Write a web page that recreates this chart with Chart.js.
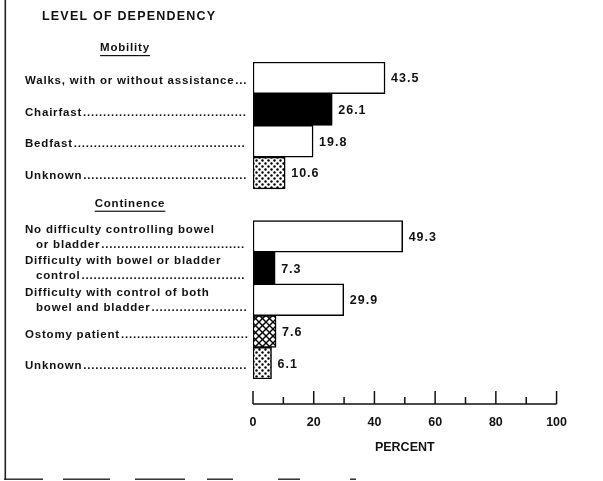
<!DOCTYPE html>
<html>
<head>
<meta charset="utf-8">
<title>Level of dependency</title>
<script src="https://cdn.jsdelivr.net/npm/chart.js@4.4.1/dist/chart.umd.min.js"></script>
<style>
    html, body { margin: 0; padding: 0; background: #fff; }
    #wrap { width: 603px; height: 481px; }
</style>
</head>
<body>
<div id="wrap"><canvas id="chart" width="603" height="481"></canvas></div>
<script>
// --- Data ---
const mobilityLabels = [
    ['Walks, with or without assistance'],
    ['Chairfast'],
    ['Bedfast'],
    ['Unknown']
];
const mobilityValues = [43.5, 26.1, 19.8, 10.6];

const continenceLabels = [
    ['No difficulty controlling bowel', 'or bladder'],
    ['Difficulty with bowel or bladder', 'control'],
    ['Difficulty with control of both', 'bowel and bladder'],
    ['Ostomy patient'],
    ['Unknown']
];
const continenceValues = [49.3, 7.3, 29.9, 7.6, 6.1];

const xTickValues = [0, 20, 40, 60, 80, 100];
const xMinorTickValues = [10, 30, 50, 70, 90];

// --- Fill styles for each bar (kept apart from the data) ---
const mobilityFills = ['white', 'black', 'white', 'dots'];
const continenceFills = ['white', 'black', 'white', 'hatch', 'dots'];

const LABEL_FONT = 'bold 11.5px "Liberation Sans", Arial, sans-serif';
const NUM_FONT = 'bold 12.5px "Liberation Sans", Arial, sans-serif';
const INK = '#111';

// one blank slot separates the two groups
const allLabels = [...mobilityLabels, [''], ...continenceLabels];
const allValues = [...mobilityValues, null, ...continenceValues];

const canvas = document.getElementById('chart');
const ctx = canvas.getContext('2d');

function makeDots() {
    const c = document.createElement('canvas');
    c.width = 6; c.height = 6;
    const g = c.getContext('2d');
    g.fillStyle = '#fff'; g.fillRect(0, 0, 6, 6);
    g.fillStyle = '#000';
    [[1.5, 1.5], [4.5, 4.5]].forEach(([x, y]) => {
        g.beginPath(); g.arc(x, y, 1.2, 0, Math.PI * 2); g.fill();
    });
    return ctx.createPattern(c, 'repeat');
}

function makeHatch() {
    const c = document.createElement('canvas');
    c.width = 7; c.height = 7;
    const g = c.getContext('2d');
    g.fillStyle = '#fff'; g.fillRect(0, 0, 7, 7);
    g.strokeStyle = '#000'; g.lineWidth = 1.4;
    [-7, 0, 7].forEach(k => {
        g.beginPath(); g.moveTo(k, 0); g.lineTo(k + 7, 7); g.stroke();
        g.beginPath(); g.moveTo(k + 7, 0); g.lineTo(k, 7); g.stroke();
    });
    return ctx.createPattern(c, 'repeat');
}

const patterns = { white: '#fff', black: '#000', dots: makeDots(), hatch: makeHatch() };
const barFills = [...mobilityFills, 'white', ...continenceFills].map(f => patterns[f]);

function dotLeader(c, text, x, y, endX) {
    c.fillText(text, x, y);
    const w = c.measureText(text).width;
    const dotW = c.measureText('.').width;
    const n = Math.floor((endX - (x + w + 1)) / dotW);
    if (n > 0) c.fillText('.'.repeat(n), x + w + 1, y);
}

function underlined(c, text, cx, y) {
    c.textAlign = 'center';
    c.fillText(text, cx, y);
    const w = c.measureText(text).width;
    c.fillRect(cx - w / 2, y + 7, w, 1.2);
    c.textAlign = 'left';
}

const paperPlugin = {
    id: 'paper',
    beforeDraw(chart) {
        const c = chart.ctx;
        c.save();
        c.fillStyle = '#fff';
        c.fillRect(0, 0, chart.width, chart.height);
        // frame left / bottom edge of the scanned page
        c.fillStyle = '#222';
        c.fillRect(4.5, 0, 1.6, 480);
        [[4, 43], [63, 110], [135, 185], [207, 233], [278, 300], [350, 356]].forEach(([a, b]) => {
            c.fillRect(a, 478.5, b - a, 1.4);
        });
        c.restore();
    },
    afterDatasetsDraw(chart) {
        const c = chart.ctx;
        const xs = chart.scales.x;
        const ys = chart.scales.y;
        const area = chart.chartArea;
        c.save();
        c.fillStyle = INK;
        c.strokeStyle = INK;

        // header texts
        c.font = 'bold 12.5px "Liberation Sans", Arial, sans-serif';
        c.letterSpacing = '1.2px';
        c.textBaseline = 'middle';
        c.textAlign = 'left';
        c.fillText('LEVEL OF DEPENDENCY', 42, 17);

        c.font = LABEL_FONT;
        c.letterSpacing = '0.8px';
        underlined(c, 'Mobility', 125, area.top - 14);
        underlined(c, 'Continence', 130, ys.getPixelForValue(mobilityLabels.length) - 1);

        // category labels with dot leaders
        allLabels.forEach((lines, i) => {
            if (!lines[0]) return;
            const cy = ys.getPixelForValue(i);
            if (lines.length === 1) {
                dotLeader(c, lines[0], 25, cy + 3, area.left - 4);
            } else {
                c.fillText(lines[0], 25, cy - 7);
                dotLeader(c, lines[1], 36, cy + 8, area.left - 4);
            }
        });

        // value labels at the bar ends
        c.font = NUM_FONT;
        c.letterSpacing = '1px';
        const meta = chart.getDatasetMeta(0);
        meta.data.forEach((bar, i) => {
            const v = allValues[i];
            if (v === null) return;
            c.fillText(v.toFixed(1), bar.x + 6, bar.y + 1);
        });

        // percent axis: line with ticks pointing up
        const axisY = area.bottom + 25;
        c.lineWidth = 1.5;
        c.beginPath();
        c.moveTo(xs.getPixelForValue(0), axisY);
        c.lineTo(xs.getPixelForValue(100), axisY);
        c.stroke();
        xTickValues.forEach(v => {
            const px = xs.getPixelForValue(v);
            c.beginPath(); c.moveTo(px, axisY); c.lineTo(px, axisY - 13); c.stroke();
        });
        xMinorTickValues.forEach(v => {
            const px = xs.getPixelForValue(v);
            c.beginPath(); c.moveTo(px, axisY); c.lineTo(px, axisY - 7); c.stroke();
        });
        c.restore();
    }
};

new Chart(ctx, {
    type: 'bar',
    data: {
        labels: allLabels,
        datasets: [{
            data: allValues,
            backgroundColor: barFills,
            borderColor: '#000',
            borderWidth: 1.5,
            borderSkipped: false,
            categoryPercentage: 1,
            barPercentage: 1
        }]
    },
    options: {
        indexAxis: 'y',
        responsive: false,
        animation: false,
        layout: { padding: { top: 62, left: 253, right: 32, bottom: 26 } },
        plugins: {
            legend: { display: false },
            tooltip: { enabled: false }
        },
        scales: {
            x: {
                min: 0,
                max: 100,
                afterBuildTicks: axis => { axis.ticks = xTickValues.map(v => ({ value: v })); },
                grid: { display: false, drawTicks: false },
                border: { display: false },
                ticks: {
                    padding: 36,
                    color: INK,
                    maxRotation: 0,
                    font: { family: '"Liberation Sans", Arial, sans-serif', size: 12.5, weight: 'bold' }
                },
                title: {
                    display: true,
                    text: 'PERCENT',
                    color: INK,
                    padding: { top: -26, bottom: 0 },
                    font: { family: '"Liberation Sans", Arial, sans-serif', size: 12.5, weight: 'bold' }
                }
            },
            y: { display: false }
        }
    },
    plugins: [paperPlugin]
});
</script>
</body>
</html>
